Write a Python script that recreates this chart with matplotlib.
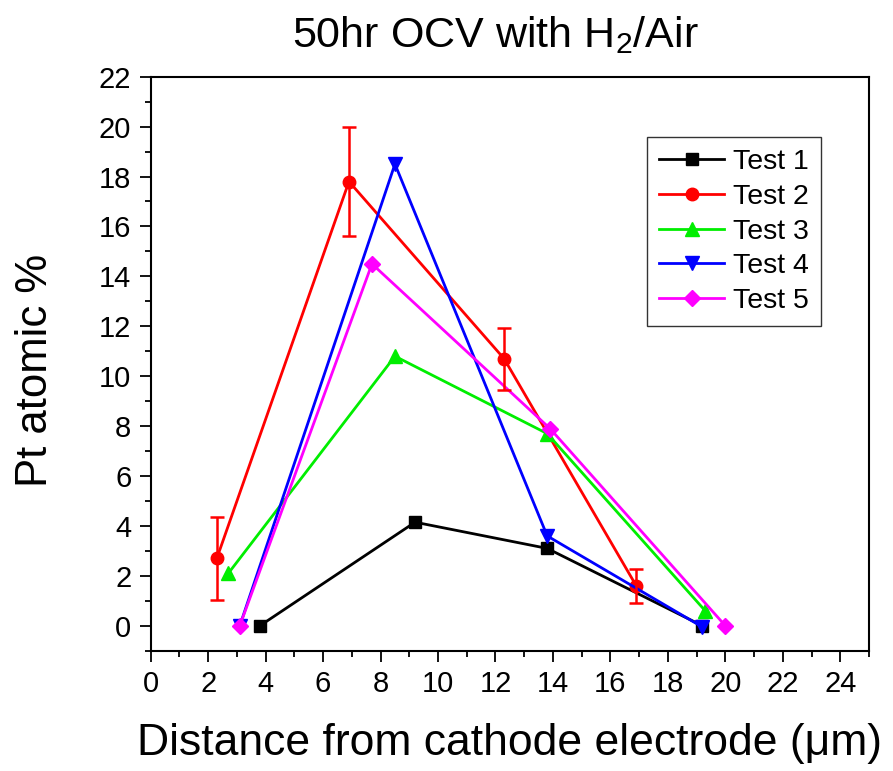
import numpy as np
import matplotlib
matplotlib.use("Agg")
import matplotlib.pyplot as plt
from matplotlib.ticker import MultipleLocator

plt.rcParams['font.family'] = ['Liberation Sans', 'DejaVu Sans']
plt.rcParams['mathtext.fontset'] = 'custom'
plt.rcParams['mathtext.rm'] = 'Liberation Sans'

# data
t1_x = [3.8, 9.2, 13.8, 19.2]
t1_y = [0.0, 4.15, 3.1, 0.0]

t2_x = [2.3, 6.9, 12.3, 16.9]
t2_y = [2.7, 17.8, 10.7, 1.6]
t2_err = [1.65, 2.2, 1.24, 0.68]

t3_x = [2.7, 8.5, 13.8, 19.3]
t3_y = [2.1, 10.8, 7.7, 0.6]

t4_x = [3.1, 8.5, 13.8, 19.2]
t4_y = [0.0, 18.5, 3.6, -0.05]

t5_x = [3.1, 7.7, 13.9, 20.0]
t5_y = [0.0, 14.5, 7.9, 0.0]

labels = ['Test 1', 'Test 2', 'Test 3', 'Test 4', 'Test 5']

fig = plt.figure(figsize=(8.93, 7.71), dpi=100)
ax = fig.add_axes([0.1688, 0.156, 0.8043, 0.7445])

lw = 2.0
ax.plot(t1_x, t1_y, '-s', color='black', lw=lw, ms=8, label=labels[0])
ax.plot(t2_x, t2_y, '-o', color='red', lw=lw, ms=9, label=labels[1])
ax.plot(t3_x, t3_y, '-^', color='#00ee00', lw=lw, ms=10, label=labels[2])
ax.plot(t4_x, t4_y, '-v', color='blue', lw=lw, ms=10, label=labels[3])
ax.plot(t5_x, t5_y, '-D', color='magenta', lw=lw, ms=8, label=labels[4])
# error bars of Test 2 sit on top of the lines
ax.errorbar(t2_x, t2_y, yerr=t2_err, fmt='none', ecolor='red',
            elinewidth=1.8, capsize=5, capthick=1.8, zorder=3)

ax.set_xlim(0, 25)
ax.set_ylim(-1, 22)
ax.xaxis.set_minor_locator(MultipleLocator(1))
ax.yaxis.set_minor_locator(MultipleLocator(1))
ax.set_xticks(np.arange(0, 25, 2))
ax.set_yticks(np.arange(0, 23, 2))

for s in ax.spines.values():
    s.set_linewidth(1.5)
ax.tick_params(which='major', direction='out', length=8, width=1.3,
               labelsize=21, pad=6)
ax.tick_params(which='minor', direction='out', length=4, width=1.3)

ax.set_xlabel('Distance from cathode electrode (\u03bcm)', fontsize=32, va='baseline')
ax.xaxis.set_label_coords(0.5, -0.1817)
ax.set_ylabel('Pt atomic %', fontsize=31.5, va='baseline')
ax.yaxis.set_label_coords(-0.1444, 0.489)

fig.text(0.5549, 0.939, '50hr OCV with H$_2$/Air', fontsize=31,
         ha='center', va='baseline')

leg = ax.legend(loc='upper left', bbox_to_anchor=(0.691, 0.895), fontsize=20.5,
                frameon=True, fancybox=False, edgecolor='black',
                handlelength=2.3, labelspacing=0.31, borderpad=0.42,
                handletextpad=0.3, borderaxespad=0)
leg.get_frame().set_linewidth(1.0)

fig.savefig('out.png', dpi=100)
